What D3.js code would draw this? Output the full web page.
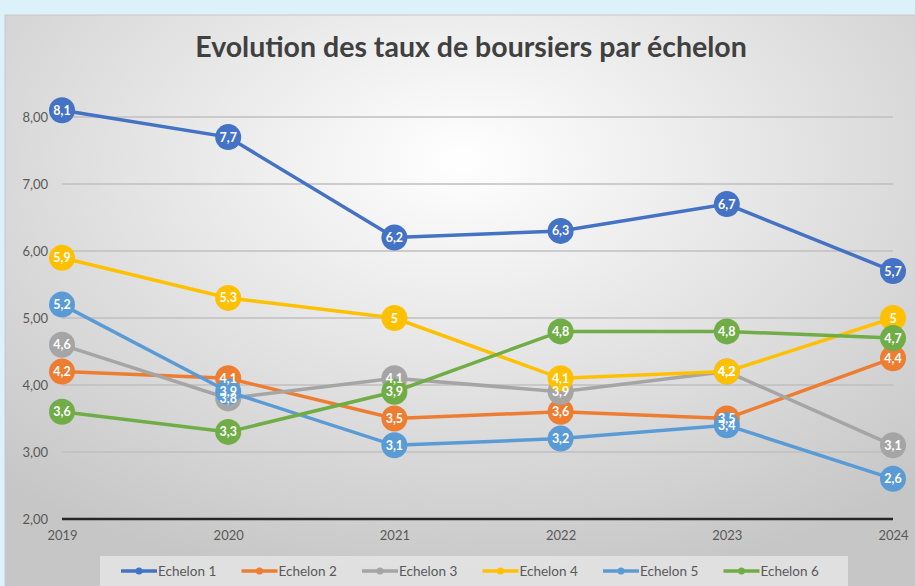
<!DOCTYPE html>
<html>
<head>
<meta charset="utf-8">
<script src="https://cdn.jsdelivr.net/npm/d3@7"></script>
<style>
  body { margin: 0; background: #dcf1fa; }
  svg { display: block; font-family: Lato, "Open Sans", sans-serif; }
</style>
</head>
<body>
<svg width="915" height="586"></svg>
<script>
// data
var years = ["2019", "2020", "2021", "2022", "2023", "2024"];
var seriesNames = ["Echelon 1", "Echelon 2", "Echelon 3", "Echelon 4", "Echelon 5", "Echelon 6"];
var echelon1 = [8.1, 7.7, 6.2, 6.3, 6.7, 5.7];
var echelon2 = [4.2, 4.1, 3.5, 3.6, 3.5, 4.4];
var echelon3 = [4.6, 3.8, 4.1, 3.9, 4.2, 3.1];
var echelon4 = [5.9, 5.3, 5.0, 4.1, 4.2, 5.0];
var echelon5 = [5.2, 3.9, 3.1, 3.2, 3.4, 2.6];
var echelon6 = [3.6, 3.3, 3.9, 4.8, 4.8, 4.7];
var yTicks = [2, 3, 4, 5, 6, 7, 8];
var colors = ["#4472c4", "#ed7d31", "#a5a5a5", "#ffc000", "#5b9bd5", "#70ad47"];

var allSeries = [echelon1, echelon2, echelon3, echelon4, echelon5, echelon6];

var svg = d3.select("svg");

// chart area background
var defs = svg.append("defs");
var grad = defs.append("radialGradient")
  .attr("id", "bg")
  .attr("cx", "50%").attr("cy", "25%").attr("r", "75%");
grad.append("stop").attr("offset", "0%").attr("stop-color", "#ffffff");
grad.append("stop").attr("offset", "100%").attr("stop-color", "#c6c6c6");

svg.append("rect")
  .attr("x", 5).attr("y", 15)
  .attr("width", 915).attr("height", 580)
  .attr("fill", "url(#bg)")
  .attr("stroke", "#c8c8c8");

svg.append("text")
  .attr("x", 471).attr("y", 57)
  .attr("text-anchor", "middle")
  .attr("font-size", "28.5px")
  .attr("font-weight", "bold")
  .attr("fill", "#404040")
  .text("Evolution des taux de boursiers par échelon");

var x = d3.scalePoint().domain(years).range([62, 893]);
var y = d3.scaleLinear().domain([2, 8]).range([519, 117]);

var comma = function(d, digits) {
  return d3.format("." + digits + "f")(d).replace(".", ",");
};

// gridlines
svg.append("g")
  .selectAll("line")
  .data(yTicks.slice(1))
  .enter().append("line")
  .attr("x1", 62).attr("x2", 893)
  .attr("y1", function(d) { return y(d); })
  .attr("y2", function(d) { return y(d); })
  .attr("stroke", "#bfbfbf")
  .attr("stroke-width", 1.5);

// y axis labels
var yAxis = svg.append("g")
  .attr("transform", "translate(62,0)")
  .call(d3.axisLeft(y).tickValues(yTicks).tickSize(0).tickPadding(14)
    .tickFormat(function(d) { return comma(d, 2); }));
yAxis.select(".domain").remove();
yAxis.selectAll("text").attr("font-size", "13px").attr("fill", "#595959")
  .attr("font-family", "Lato, sans-serif");

// x axis
var xAxis = svg.append("g")
  .attr("transform", "translate(0," + y(2) + ")")
  .call(d3.axisBottom(x).tickSize(0).tickPadding(12));
xAxis.select(".domain").attr("stroke", "#262626").attr("stroke-width", 2.5)
  .attr("d", "M62,0H893");
xAxis.selectAll("text").attr("font-size", "13px").attr("fill", "#595959")
  .attr("font-family", "Lato, sans-serif");

var line = d3.line()
  .x(function(d, i) { return x(years[i]); })
  .y(function(d) { return y(d); });

var plot = svg.append("g");
allSeries.forEach(function(vals, s) {
  plot.append("path")
    .datum(vals)
    .attr("d", line)
    .attr("fill", "none")
    .attr("stroke", colors[s])
    .attr("stroke-width", 3.5);
  plot.selectAll(".m" + s)
    .data(vals)
    .enter().append("circle")
    .attr("class", "m" + s)
    .attr("cx", function(d, i) { return x(years[i]); })
    .attr("cy", function(d) { return y(d); })
    .attr("r", 13)
    .attr("fill", colors[s]);
});

// data labels on top (overlaps at 2020 and 2023 are in the original too)
allSeries.forEach(function(vals, s) {
  plot.selectAll(".l" + s)
    .data(vals)
    .enter().append("text")
    .attr("class", "l" + s)
    .attr("x", function(d, i) { return x(years[i]); })
    .attr("y", function(d) { return y(d) + 4.5; })
    .attr("text-anchor", "middle")
    .attr("font-size", "12.5px")
    .attr("font-weight", "bold")
    .attr("fill", "#ffffff")
    .text(function(d) { return d % 1 === 0 ? String(d) : comma(d, 1); });
});

// legend
var legend = svg.append("g");
legend.append("rect")
  .attr("x", 100).attr("y", 556)
  .attr("width", 748).attr("height", 30)
  .attr("fill", "#e6e6e6").attr("opacity", 0.8);

var item = legend.selectAll(".item")
  .data(seriesNames)
  .enter().append("g")
  .attr("class", "item")
  .attr("transform", function(d, i) { return "translate(" + (121 + i * 120.5) + ",571)"; });
item.append("line")
  .attr("x1", 0).attr("x2", 36)
  .attr("stroke", function(d, i) { return colors[i]; })
  .attr("stroke-width", 3.5);
item.append("circle")
  .attr("cx", 18).attr("r", 3.5)
  .attr("fill", function(d, i) { return colors[i]; });
item.append("text")
  .attr("x", 37).attr("y", 4.5)
  .attr("font-size", "13.5px")
  .attr("fill", "#595959")
  .text(function(d) { return d; });
</script>
</body>
</html>
